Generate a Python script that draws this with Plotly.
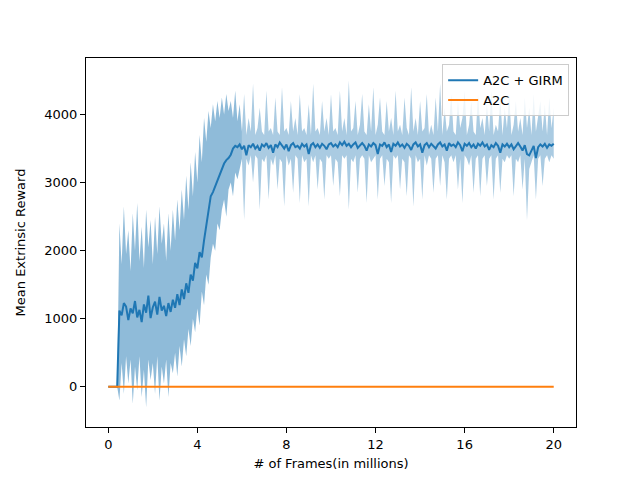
"""Mean extrinsic reward over training frames: A2C + GIRM vs A2C"""

import plotly.graph_objects as go

# frames in millions, one sample every 0.1M
frames = [round(0.1 * i, 1) for i in range(201)]

girm_mean = [
    0, 0, 0, 0, 0,
    1120, 1050, 1230, 1180, 980,
    1150, 1080, 1260, 1020, 1130,
    950, 1210, 1090, 1340, 1010,
    1170, 1250, 1060, 1320, 1120,
    1190, 1040, 1230, 1100, 1280,
    1160, 1360, 1200, 1430, 1290,
    1520, 1380, 1650, 1560, 1820,
    1740, 1980, 1900, 2150, 2350,
    2600, 2800, 2860, 2950, 3010,
    3120, 3200, 3280, 3330, 3360,
    3410, 3500, 3540, 3520, 3560,
    3490, 3540, 3400, 3550, 3520,
    3570, 3500, 3540, 3470, 3560,
    3530, 3580, 3510, 3550, 3440,
    3560, 3520, 3590, 3540, 3500,
    3560, 3460, 3550, 3580, 3520,
    3540, 3500, 3570, 3530, 3560,
    3420, 3550, 3580, 3520, 3560,
    3510, 3570, 3540, 3490, 3560,
    3580, 3530, 3560, 3520, 3590,
    3550, 3600, 3540, 3570, 3520,
    3560, 3590, 3510, 3550, 3580,
    3540, 3470, 3560, 3530, 3580,
    3550, 3420, 3560, 3540, 3590,
    3520, 3560, 3450, 3570, 3540,
    3590, 3530, 3560, 3510, 3570,
    3540, 3480, 3560, 3590, 3530,
    3560, 3440, 3550, 3580, 3520,
    3570, 3540, 3500, 3560, 3590,
    3530, 3560, 3470, 3580, 3540,
    3560, 3520, 3590, 3550, 3460,
    3570, 3540, 3580, 3520, 3560,
    3500, 3570, 3540, 3590, 3530,
    3560, 3480, 3550, 3520, 3580,
    3540, 3440, 3560, 3530, 3570,
    3520, 3560, 3490, 3540, 3580,
    3530, 3470, 3550, 3420, 3400,
    3480, 3540, 3360, 3520, 3560,
    3530, 3570, 3510, 3560, 3540,
    3570,
]

girm_upper = [
    0, 0, 0, 0, 0,
    2400, 1800, 2650, 1950, 2300,
    1700, 2550, 2000, 2700, 1850,
    2350, 1750, 2600, 2050, 2450,
    1800, 2500, 1950, 2650, 2100,
    2400, 1850, 2550, 2000, 2600,
    2150, 2750, 2300, 2900, 2450,
    3100, 2600, 3300, 2800, 3450,
    3000, 3700, 3300, 3950, 3600,
    4050, 3800, 4150, 3900, 4200,
    3950, 4250, 4000, 4300, 4050,
    4200, 3950, 4350, 3900, 4150,
    3750, 4300, 3700, 3950, 3750,
    4450, 3700, 3800, 4100, 3750,
    3700, 4350, 3750, 3800, 3700,
    4250, 3750, 3700, 4400, 3750,
    3800, 3700, 4200, 3750, 3950,
    3700, 4300, 3750, 3800, 3700,
    4150, 3700, 4450, 3750, 3800,
    3700, 4200, 3750, 3950, 3700,
    4300, 3750, 3800, 3700, 4350,
    3750, 3950, 3700, 4500, 3750,
    3800, 4200, 3700, 3850, 4300,
    3750, 3700, 4150, 3750, 4400,
    3700, 3850, 4250, 3750, 3700,
    4200, 3750, 3950, 3700, 4350,
    3750, 3850, 3700, 4250, 3800,
    3700, 4400, 3750, 3950, 3700,
    4200, 3750, 3800, 4300, 3700,
    3850, 3700, 4250, 3750, 4450,
    3700, 4100, 3750, 3850, 4300,
    3750, 3700, 4200, 3800, 3950,
    4350, 3700, 3850, 4200, 3750,
    3700, 4300, 3800, 3950, 3700,
    4150, 3750, 4350, 3700, 3850,
    3750, 4250, 3700, 4100, 3800,
    4300, 3700, 3850, 4200, 3750,
    3950, 3700, 4250, 3800, 4100,
    3700, 4300, 3750, 3950, 4200,
    3750, 4150, 3700, 4250, 3800,
    4100,
]

girm_lower = [
    0, 0, 0, 0, 0,
    -200, 350, -100, 450, 50,
    400, -250, 300, -50, 450,
    -150, 250, -300, 400, 100,
    350, -100, 450, -200, 300,
    50, 400, -150, 350, 200,
    500, 150, 600, 300, 700,
    450, 850, 600, 1000, 800,
    1150, 900, 1400, 1200, 1650,
    1500, 1900, 2100, 2000, 2400,
    2300, 2600, 2750, 2500, 2900,
    3000, 2800, 3150, 3050, 3200,
    3350, 2450, 3350, 3250, 3400,
    3000, 3400, 3350, 2600, 3350,
    3300, 3400, 2750, 3350, 3250,
    3400, 2900, 3350, 3300, 2650,
    3400, 3250, 3350, 2850, 3400,
    3350, 2700, 3400, 3300, 3350,
    2650, 3400, 3300, 3400, 2900,
    3350, 3300, 2750, 3400, 3350,
    3400, 2950, 3350, 3300, 2800,
    3400, 3350, 3400, 2600, 3350,
    3300, 3400, 2850, 3350, 3400,
    3350, 2700, 3400, 3300, 3350,
    3400, 2750, 3350, 3400, 2950,
    3350, 3300, 2700, 3400, 3350,
    3400, 2900, 3350, 3300, 2800,
    3400, 3350, 2650, 3400, 3300,
    3350, 2750, 3400, 3250, 3400,
    3350, 2850, 3350, 3400, 2950,
    3400, 3300, 2750, 3350, 3400,
    3300, 3400, 2900, 3350, 2700,
    3400, 3350, 3250, 3400, 2850,
    3350, 3400, 2800, 3350, 3400,
    2950, 3350, 3400, 2750, 3350,
    3400, 2850, 3350, 3300, 3400,
    3350, 3400, 2800, 3350, 3300,
    3400, 2900, 3350, 2450, 3200,
    3300, 3400, 2750, 3350, 3400,
    2950, 3350, 3400, 3300, 3400,
    3350,
]

# plain A2C never gets any extrinsic reward
a2c_mean = [0] * len(frames)

x_ticks = [0, 4, 8, 12, 16, 20]
y_ticks = [0, 1000, 2000, 3000, 4000]

BLUE = "#1f77b4"
ORANGE = "#ff7f0e"

# the band is dense and solid during learning, thin and spiky once it plateaus
SPLIT = 60

fig = go.Figure()

for lo, hi, alpha in [(0, SPLIT + 1, 0.5), (SPLIT, len(frames), 0.38)]:
    fig.add_trace(go.Scatter(x=frames[lo:hi], y=girm_lower[lo:hi], mode="lines",
                             line=dict(width=0), showlegend=False, hoverinfo="skip"))
    fig.add_trace(go.Scatter(x=frames[lo:hi], y=girm_upper[lo:hi], mode="lines",
                             line=dict(width=0), fill="tonexty",
                             fillcolor="rgba(31,119,180,%s)" % alpha,
                             showlegend=False, hoverinfo="skip"))

fig.add_trace(go.Scatter(x=frames, y=girm_mean, mode="lines", name="A2C + GIRM",
                         line=dict(color=BLUE, width=2)))
fig.add_trace(go.Scatter(x=frames, y=a2c_mean, mode="lines", name="A2C",
                         line=dict(color=ORANGE, width=2)))

axis_style = dict(showline=True, linecolor="black", linewidth=1, mirror=True,
                  ticks="outside", ticklen=5, tickcolor="black", showgrid=False,
                  zeroline=False, tickfont=dict(size=13, color="black"))

fig.update_xaxes(range=[-1, 21], tickvals=x_ticks,
                 title=dict(text="# of Frames(in millions)", standoff=8,
                            font=dict(size=13, color="black")),
                 **axis_style)
fig.update_yaxes(range=[-590, 4830], tickvals=y_ticks,
                 title=dict(text="Mean Extrinsic Reward", font=dict(size=13, color="black")),
                 **axis_style)

# page body adds an 8px offset, margins are trimmed to compensate
fig.update_layout(
    width=640, height=480,
    margin=dict(l=72, r=72, t=50, b=61),
    paper_bgcolor="white", plot_bgcolor="white",
    font=dict(family="DejaVu Sans", size=13, color="black"),
    legend=dict(x=0.986, y=0.983, xanchor="right", yanchor="top", traceorder="normal",
                bgcolor="rgba(255,255,255,0.8)", bordercolor="#cccccc", borderwidth=1,
                font=dict(size=13)),
)

fig.write_html("out.html")
